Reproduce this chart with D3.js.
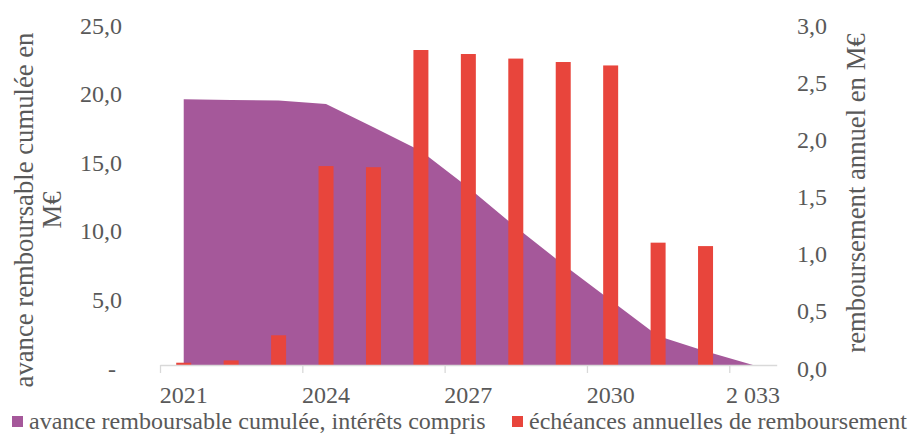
<!DOCTYPE html>
<html>
<head>
<meta charset="utf-8">
<script src="https://cdn.jsdelivr.net/npm/d3@7"></script>
<style>
  html, body { margin: 0; padding: 0; background: #fff; }
  svg { display: block; }
  text { font-family: "Liberation Serif", "Times New Roman", serif; fill: #595959; }
</style>
</head>
<body>
<svg id="chart" width="911" height="434"></svg>
<script>
// Années du calendrier de remboursement
const years = [2021, 2022, 2023, 2024, 2025, 2026, 2027, 2028, 2029, 2030, 2031, 2032, 2033];
// Avance remboursable cumulée, intérêts compris (M€)
const cumulative = [19.37, 19.31, 19.27, 19.02, 17.32, 15.6, 12.94, 10.06, 7.33, 4.72, 2.11, 1.01, 0];
// Échéances annuelles de remboursement (M€)
const annual = [0.02, 0.04, 0.26, 1.74, 1.73, 2.755, 2.72, 2.68, 2.65, 2.62, 1.07, 1.04, null];

// Libellés des axes
const xTickYears = [2021, 2024, 2027, 2030, 2033];
const xTickLabels = ["2021", "2024", "2027", "2030", "2 033"];
const leftTicks = [0, 5, 10, 15, 20, 25];
const leftTickLabels = ["-", "5,0", "10,0", "15,0", "20,0", "25,0"];
const rightTicks = [0, 0.5, 1, 1.5, 2, 2.5, 3];
const rightTickLabels = ["0,0", "0,5", "1,0", "1,5", "2,0", "2,5", "3,0"];

const leftTitle = ["avance remboursable cumulée en", "M€"];
const rightTitle = "remboursement annuel en M€";
const seriesNames = ["avance remboursable cumulée, intérêts compris", "échéances annuelles de remboursement"];

const colors = { area: "#A5589A", bar: "#E8453C", axis: "#D9D9D9" };

const svg = d3.select("#chart");
const plot = { left: 160, right: 776.7, top: 22, bottom: 365 };

const x = d3.scaleBand()
  .domain(years)
  .range([plot.left, plot.right])
  .paddingInner(0.684)
  .paddingOuter(0.342);
const xCenter = d => x(d) + x.bandwidth() / 2;

// Échelle des limites de catégories, pour les graduations
const xBound = d3.scaleLinear().domain([0, years.length]).range([plot.left, plot.right]);

const yLeft = d3.scaleLinear().domain([0, 25]).range([plot.bottom, plot.top]);
const yRight = d3.scaleLinear().domain([0, 3]).range([plot.bottom, plot.top]);

// Aire : avance cumulée
const area = d3.area()
  .x((d, i) => xCenter(years[i]))
  .y0(yLeft(0))
  .y1(d => yLeft(d));
svg.append("path")
  .datum(cumulative)
  .attr("d", area)
  .attr("fill", colors.area);

// Barres : échéances annuelles
svg.append("g")
  .selectAll("rect")
  .data(years.map((y, i) => ({ year: y, value: annual[i] })).filter(d => d.value != null))
  .join("rect")
  .attr("x", d => x(d.year))
  .attr("width", x.bandwidth())
  .attr("y", d => yRight(d.value))
  .attr("height", d => yRight(0) - yRight(d.value))
  .attr("fill", colors.bar);

// Axe horizontal : ligne et graduations aux limites de catégories
const xTicksAxis = d3.axisBottom(xBound)
  .tickValues([0, 3, 6, 9, 12])
  .tickSize(8)
  .tickSizeOuter(0)
  .tickFormat("");
const gxt = svg.append("g")
  .attr("transform", `translate(0,${plot.bottom})`)
  .call(xTicksAxis);
gxt.select(".domain").attr("stroke", colors.axis).attr("stroke-width", 1.3);
gxt.selectAll(".tick line").attr("stroke", colors.axis).attr("stroke-width", 1.3);

// Libellés des années
const xLabelAxis = d3.axisBottom(x)
  .tickValues(xTickYears)
  .tickSize(0)
  .tickFormat(d => xTickLabels[xTickYears.indexOf(d)]);
const gxl = svg.append("g")
  .attr("transform", `translate(0,${plot.bottom})`)
  .call(xLabelAxis);
gxl.select(".domain").remove();
gxl.selectAll(".tick text")
  .attr("y", 38)
  .attr("dy", 0)
  .style("font-size", "24px")
  .style("font-family", "'Liberation Serif', serif")
  .attr("fill", "#595959");

// Axe gauche
const leftAxis = d3.axisLeft(yLeft)
  .tickValues(leftTicks)
  .tickSize(0)
  .tickFormat(d => leftTickLabels[leftTicks.indexOf(d)]);
const gl = svg.append("g")
  .attr("transform", `translate(122,0)`)
  .call(leftAxis);
gl.select(".domain").remove();
gl.selectAll(".tick text")
  .attr("x", d => d === 0 ? -6 : 0)
  .attr("dy", 11)
  .style("font-size", "24px")
  .style("font-family", "'Liberation Serif', serif")
  .attr("fill", "#595959");

// Axe droit
const rightAxis = d3.axisRight(yRight)
  .tickValues(rightTicks)
  .tickSize(0)
  .tickFormat(d => rightTickLabels[rightTicks.indexOf(d)]);
const gr = svg.append("g")
  .attr("transform", `translate(797,0)`)
  .call(rightAxis);
gr.select(".domain").remove();
gr.selectAll(".tick text")
  .attr("x", 0)
  .attr("dy", 11)
  .style("font-size", "24px")
  .style("font-family", "'Liberation Serif', serif")
  .attr("fill", "#595959");

// Titres des axes
const lt = svg.append("text")
  .attr("transform", "translate(33,210) rotate(-90)")
  .attr("text-anchor", "middle")
  .style("font-size", "26.7px");
lt.selectAll("tspan")
  .data(leftTitle)
  .join("tspan")
  .attr("x", 0)
  .attr("dy", (d, i) => i === 0 ? 0 : 28)
  .text(d => d);

svg.append("text")
  .attr("transform", "translate(865,193) rotate(-90)")
  .attr("text-anchor", "middle")
  .style("font-size", "26.7px")
  .text(rightTitle);

// Légende
const legendItems = [
  { name: seriesNames[0], color: colors.area, x: 12 },
  { name: seriesNames[1], color: colors.bar, x: 512 }
];
const lg = svg.append("g");
const li = lg.selectAll("g").data(legendItems).join("g")
  .attr("transform", d => `translate(${d.x},0)`);
li.append("rect")
  .attr("x", 0).attr("y", 416)
  .attr("width", 11).attr("height", 11)
  .attr("fill", d => d.color);
li.append("text")
  .attr("x", 17).attr("y", 428.5)
  .style("font-size", "24px")
  .text(d => d.name);
</script>
</body>
</html>
